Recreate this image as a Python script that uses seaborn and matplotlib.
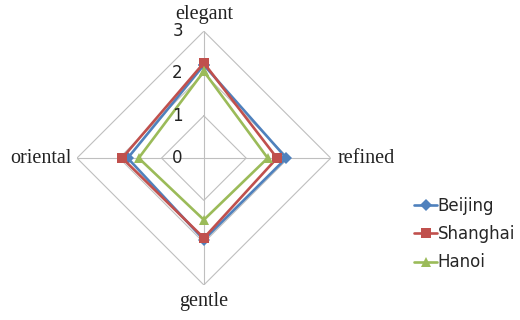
import numpy as np
import pandas as pd
import seaborn as sns
import matplotlib
matplotlib.use("Agg")
import matplotlib.pyplot as plt
from matplotlib.transforms import offset_copy

categories = ["elegant", "refined", "gentle", "oriental"]
cities = ["Beijing", "Shanghai", "Hanoi"]
beijing = [2.2, 1.95, 1.93, 1.8]
shanghai = [2.25, 1.73, 1.89, 1.93]
hanoi = [2.05, 1.51, 1.46, 1.54]
levels = [0, 1, 2, 3]

colors = {"Beijing": "#4F81BD", "Shanghai": "#C0504D", "Hanoi": "#9BBB59"}
markers = {"Beijing": "D", "Shanghai": "s", "Hanoi": "^"}

angles = np.linspace(0, 2 * np.pi, len(categories), endpoint=False)
closed = np.r_[angles, 2 * np.pi]

# long table, first point repeated to close each polygon
rows = []
for city, vals in zip(cities, [beijing, shanghai, hanoi]):
    for a, v in zip(closed, vals + vals[:1]):
        rows.append({"city": city, "angle": a, "value": v})
df = pd.DataFrame(rows)

sns.set_style("white")
fig = plt.figure(figsize=(5.2, 3.2), dpi=100)
ax = fig.add_axes([0.148, 0.109, 0.488, 0.794], projection="polar")
ax.set_theta_zero_location("N")
ax.set_theta_direction(-1)

sns.lineplot(data=df, x="angle", y="value", hue="city", style="city",
             hue_order=cities, style_order=cities, palette=colors,
             markers=markers, dashes=False, sort=False, estimator=None,
             linewidth=1.9, markersize=6.5, markeredgewidth=0, legend=False, ax=ax)
data_lines = list(ax.lines)

# diamond grid
for lvl in levels[1:]:
    ax.plot(closed, [lvl] * len(closed), color="#BFBFBF", lw=0.8, zorder=0)
for a in angles:
    ax.plot([a, a], [0, levels[-1]], color="#BFBFBF", lw=0.8, zorder=0)

ax.set_ylim(0, 3)
ax.set_xticks([])
ax.set_yticks([])
ax.grid(False)
ax.spines["polar"].set_visible(False)
ax.set_xlabel("")
ax.set_ylabel("")

offsets = {"elegant": (0, 7, "center", "bottom"),
           "refined": (7, 0, "left", "center"),
           "gentle": (0, -7, "center", "top"),
           "oriental": (-5, 0, "right", "center")}
for a, cat in zip(angles, categories):
    dx, dy, ha, va = offsets[cat]
    tr = offset_copy(ax.transData, fig=fig, x=dx, y=dy, units="dots")
    ax.text(a, 3, cat, transform=tr, ha=ha, va=va,
            family="Liberation Serif", fontsize=14.5, color="#222222")

for lvl in levels:
    tr = offset_copy(ax.transData, fig=fig, x=-21, y=0, units="dots")
    ax.text(0, lvl, str(lvl), transform=tr, ha="right", va="center",
            fontsize=12, color="#222222")

fig.legend(data_lines, cities, loc="upper left", bbox_to_anchor=(0.768, 0.432),
           frameon=False, fontsize=12, handlelength=1.35, handletextpad=0.05,
           labelspacing=0.62)

fig.savefig("out.png", dpi=100)
